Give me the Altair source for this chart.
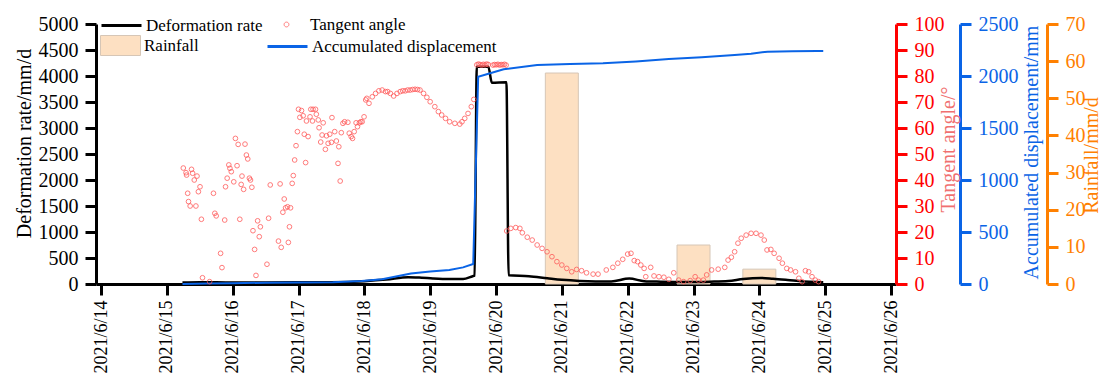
import altair as alt
import pandas as pd

BASE = pd.Timestamp("2021-06-14")

# Deformation rate (mm/d) – hours after 2021-06-14 00:00
rate_hours = [29.7, 36, 48, 60, 72, 84, 96, 104, 112, 117, 121, 127, 132, 135.5, 136.2,
              137.0, 141.2, 142.5, 147.8, 148.6, 156, 162.7, 168, 174.6, 186, 192.6, 198,
              204, 214, 222, 228.7, 234.1, 240.6, 245, 250.3, 256, 261.1, 263.3]
rate_values = [30, 35, 28, 30, 32, 35, 55, 85, 130, 120, 108, 98, 98, 150, 160,
               4180, 4180, 3870, 3880, 170, 150, 110, 80, 60, 50, 105, 55,
               45, 38, 45, 58, 96, 115, 100, 77, 50, 38, 35]

# Accumulated displacement (mm)
disp_hours = [29.7, 38.7, 48, 60, 72, 84.5, 95, 102.5, 113, 120, 127, 132, 135.7, 137.5,
              146.8, 159, 171, 183, 195, 207, 219, 231, 237, 243, 252, 261, 263.3]
disp_values = [0, 5, 8, 12, 15, 18, 30, 45, 100, 120, 135, 160, 192, 1993,
               2064, 2106, 2115, 2122, 2140, 2163, 2180, 2202, 2215, 2234, 2238, 2240, 2240]

# Tangent angle (degrees)
angle_hours = [30.0, 31.0, 31.2, 31.6, 31.9, 32.5, 33.0, 33.4, 34.0, 34.6, 35.0, 35.5, 36.1,
               36.6, 37.0, 39.6, 41.0, 41.5, 42.0, 43.6, 44.1, 45.1, 45.4, 46.0, 46.6, 47.0,
               47.5, 48.4, 49.0, 49.6, 50.0, 50.6, 51.1, 51.4, 52.0, 52.5, 53.0, 53.5, 54.1,
               54.5, 55.0, 55.4, 56.0, 56.5, 57.1, 57.7, 58.1, 60.5, 61.1, 61.7, 64.7, 65.3,
               65.7, 66.3, 66.8, 67.3, 68.0, 68.3, 68.7, 69.1, 69.7, 70.1, 70.6, 71.1, 71.6,
               72.0, 72.5, 73.1, 73.7, 74.1, 74.6, 74.9, 75.5, 76.2, 76.5, 77.1, 77.3, 78.2,
               78.5, 79.2, 79.5, 80.1, 80.6, 81.0, 81.8, 82.2, 82.8, 83.4, 84.0, 84.2, 85.2,
               85.8, 86.4, 86.7, 87.2, 87.6, 88.2, 88.8, 90.0, 90.5, 91.2, 91.7, 92.3, 93.0,
               93.5, 94.2, 94.7, 95.2, 95.9, 96.5, 96.9, 97.7, 98.9, 100.1, 101.3, 102.5,
               103.7, 104.5, 105.5, 106.7, 107.9, 109.1, 110.0, 110.9, 111.8, 112.7, 113.6,
               114.5, 115.4, 116.3, 117.6, 118.8, 120.0, 121.7, 123.0, 124.2, 125.6, 127.1,
               129.0, 130.8, 131.6, 132.6, 133.8, 135.0, 135.9,
               137.0, 137.6, 138.2, 138.8, 139.4, 140.0, 140.6, 141.2, 142.9, 143.5, 144.1,
               144.7, 145.3, 145.9, 146.5, 147.1, 147.7,
               147.9, 149.4, 151.2, 152.7, 153.6, 155.4, 157.2, 159.0, 160.8, 162.6, 164.4,
               166.2, 168.0, 169.8, 171.6, 173.4, 175.2, 177.0, 179.4, 181.2, 184.2, 186.6,
               188.4, 190.2, 192.0, 193.2, 194.4, 195.6, 196.8, 198.0, 198.6, 200.4, 201.6,
               203.4, 205.2, 207.0, 208.8, 210.6, 212.4, 214.8, 216.6, 217.8, 219.6, 220.8,
               222.6, 225.0, 227.4, 228.6, 229.8, 231.0, 232.2, 233.4, 235.2, 237.0, 238.8,
               240.6, 241.8, 242.8, 244.2, 245.4, 247.2, 248.4, 250.0, 251.4, 253.2, 254.4,
               255.6, 256.8, 258.0, 259.2, 260.4, 261.6]
angle_values = [44.6, 42.8, 41.9, 34.9, 31.7, 30.0, 44.1, 42.6, 40.0, 30.0, 41.5, 35.5, 37.4,
                24.9, 2.4, 0.9, 34.9, 27.2, 26.2, 11.8, 6.3, 24.6, 37.4, 40.7, 45.8, 44.5,
                43.2, 39.3, 56.0, 45.5, 53.7, 24.9, 38.3, 41.5, 36.4, 53.8, 49.6, 48.1, 40.7,
                40.0, 37.2, 20.5, 13.3, 3.3, 24.3, 18.2, 22.0, 7.6, 25.3, 38.1, 16.5, 38.5,
                14.1, 27.6, 32.7, 29.3, 29.7, 16.0, 22.0, 29.3, 38.7, 41.7, 47.7, 53.2, 58.6,
                67.2, 64.1, 66.7, 64.7, 57.6, 46.7, 62.7, 56.7, 64.3, 67.2, 62.7, 67.2, 67.2,
                65.3, 63.1, 60.1, 54.6, 57.3, 62.0, 51.8, 57.0, 54.1, 57.6, 54.5, 64.0, 58.6,
                55.0, 46.4, 52.8, 39.6, 58.2, 61.8, 62.4, 62.2, 58.0, 56.7, 56.0, 58.6, 62.0,
                60.5, 62.0, 62.4, 62.4, 64.3, 70.8, 71.4, 69.5, 72.0, 73.3, 74.3, 74.6,
                74.0, 74.0, 73.3, 72.3, 73.3, 74.0, 74.3, 74.3, 74.6, 74.6, 74.8,
                74.9, 74.8, 74.6, 73.3, 71.8, 70.1, 68.2, 66.3, 65.0, 63.7, 62.4,
                61.8, 61.5, 62.4, 63.7, 65.6, 68.2, 71.0,
                84.3, 84.6, 84.4, 84.2, 84.5, 84.3, 84.6, 84.4, 84.2, 84.4, 84.3,
                84.5, 84.2, 84.4, 84.3, 84.5, 84.2,
                20.4, 21.4, 21.7, 21.4, 19.7, 18.0, 16.9, 15.0, 13.7, 12.4, 10.5,
                8.6, 7.3, 6.0, 4.7, 5.6, 5.1, 4.3, 3.8, 3.8, 5.4, 6.4,
                8.0, 9.5, 11.5, 11.8, 9.0, 8.6, 7.3, 6.0, 2.8, 6.4, 3.1,
                2.8, 2.6, 1.8, 4.3, 1.5, 0.9, 1.3, 2.8, 1.5, 1.5, 3.5,
                5.4, 5.7, 6.4, 9.2, 10.3, 12.4, 15.7, 17.6, 18.8, 19.5, 19.5,
                18.8, 16.9, 13.1, 13.3, 11.8, 9.9, 8.0, 6.0, 5.4, 4.7, 2.2,
                0.9, 5.1, 4.7, 2.8, 1.5, 0.9]

# Rainfall (mm/d)
rain_days = ["2021-06-21", "2021-06-23", "2021-06-24"]
rain_values = [56.8, 10.5, 4.0]

tick_days = list(range(14, 27))


def stamp(hours):
    return list((BASE + pd.to_timedelta(hours, unit="h")).strftime("%Y-%m-%dT%H:%M:%S"))


rate_df = pd.DataFrame({"t": stamp(rate_hours), "v": rate_values, "s": "Deformation rate"})
disp_df = pd.DataFrame({"t": stamp(disp_hours), "v": disp_values, "s": "Accumulated displacement"})
angle_df = pd.DataFrame({"t": stamp(angle_hours), "v": angle_values, "s": "Tangent angle"})
rain_df = pd.DataFrame({"t": [d + "T00:00:00" for d in rain_days], "v": rain_values, "s": "Rainfall"})

FONT = "Liberation Serif"
LINE_PATH = "M-1,0H1"
RECT_PATH = "M-1,-0.5H1V0.5H-1Z"
DOT_PATH = "M-0.12,0A0.12,0.12 0 1,0 0.12,0A0.12,0.12 0 1,0 -0.12,0Z"

x_enc = alt.X(
    "t:T",
    scale=alt.Scale(domain=[alt.DateTime(year=2021, month=6, date=14),
                            alt.DateTime(year=2021, month=6, date=26)], nice=False),
    axis=alt.Axis(
        values=[alt.DateTime(year=2021, month=6, date=d) for d in tick_days],
        labelExpr="timeFormat(datum.value, '%Y/%-m/%-d')",
        labelAngle=270, labelFontSize=18, labelFont=FONT, labelColor="black",
        labelPadding=5, tickSize=11, tickWidth=3, domainWidth=3,
        domainColor="black", tickColor="black", title=None, grid=False,
    ),
)


def yaxis(title, orient, offset, values, color, title_color, tx, ty):
    return alt.Axis(
        title=title, orient=orient, offset=offset, values=values, format="d",
        labelFont=FONT, labelFontSize=20, labelColor=color, labelPadding=7,
        titleFont=FONT, titleFontSize=20, titleFontWeight="normal", titleColor=title_color,
        titleAngle=270, titleAlign="center", titleBaseline="middle", titleX=tx, titleY=ty,
        domainColor=color, tickColor=color, domainWidth=3, tickWidth=3, tickSize=11,
        grid=False,
    )


def leg(x, y, path, stroke_width, extra=None):
    kw = dict(orient="none", legendX=x, legendY=y, title=None, symbolType=path,
              symbolSize=1600, symbolStrokeWidth=stroke_width, labelFont=FONT,
              labelFontSize=17, labelColor="black", labelOffset=3, padding=0,
              labelLimit=400)
    if extra:
        kw.update(extra)
    return alt.Legend(**kw)


rain = alt.Chart(rain_df).mark_bar(size=33, stroke="#d6c6b6", strokeWidth=1).encode(
    x=x_enc,
    y=alt.Y("v:Q", scale=alt.Scale(domain=[0, 70], nice=False),
            axis=yaxis("Rainfall/mm/d", "right", 151, list(range(0, 71, 10)),
                       "#ff8000", "#ff8000", 44, 131)),
    fill=alt.Fill("s:N", scale=alt.Scale(domain=["Rainfall"], range=["#fde0c2"]),
                  legend=leg(4, 1, RECT_PATH, 1, {"symbolStrokeColor": "#d6c6b6",
                                                   "symbolOpacity": 1})),
)

rate = alt.Chart(rate_df).mark_line(strokeWidth=2.5, interpolate="monotone").encode(
    x=x_enc,
    y=alt.Y("v:Q", scale=alt.Scale(domain=[0, 5000], nice=False),
            axis=yaxis("Deformation rate/mm/d", "left", 0, list(range(0, 5001, 500)),
                       "black", "black", -72, 119)),
    stroke=alt.Stroke("s:N", scale=alt.Scale(domain=["Deformation rate"], range=["black"]),
                      legend=leg(4, -20, LINE_PATH, 3)),
)

disp = alt.Chart(disp_df).mark_line(strokeWidth=2).encode(
    x=x_enc,
    y=alt.Y("v:Q", scale=alt.Scale(domain=[0, 2500], nice=False),
            axis=yaxis("Accumulated displacement/mm", "right", 64, list(range(0, 2501, 500)),
                       "#0a64e6", "#0a64e6", 71, 128)),
    stroke=alt.Stroke("s:N", scale=alt.Scale(domain=["Accumulated displacement"],
                                             range=["#0a64e6"]),
                      legend=leg(170, 1, LINE_PATH, 3)),
)

angle = alt.Chart(angle_df).mark_point(shape="circle", filled=False, size=22, strokeWidth=1,
                                       opacity=0.8).encode(
    x=x_enc,
    y=alt.Y("v:Q", scale=alt.Scale(domain=[0, 100], nice=False),
            axis=yaxis("Tangent angle/°", "right", 0, list(range(0, 101, 10)),
                       "#ff0000", "#f07070", 52, 125)),
    stroke=alt.Stroke("s:N", scale=alt.Scale(domain=["Tangent angle"], range=["#ff5a5a"]),
                      legend=leg(170, -20, DOT_PATH, 1)),
)

chart = alt.layer(rain, rate, disp, angle).resolve_scale(
    y="independent", stroke="independent", fill="independent"
).resolve_legend(
    stroke="independent", fill="independent"
).properties(
    width=800, height=260,
    autosize=alt.AutoSizeParams(type="none"),
    padding={"left": 88, "top": 16, "right": 206, "bottom": 90},
).configure(
    font=FONT
).configure_axis(
    labelFont=FONT, titleFont=FONT
).configure_legend(
    labelFont=FONT
).configure_view(stroke=None)

chart.save("out.html", embed_options={"renderer": "svg", "actions": False})
